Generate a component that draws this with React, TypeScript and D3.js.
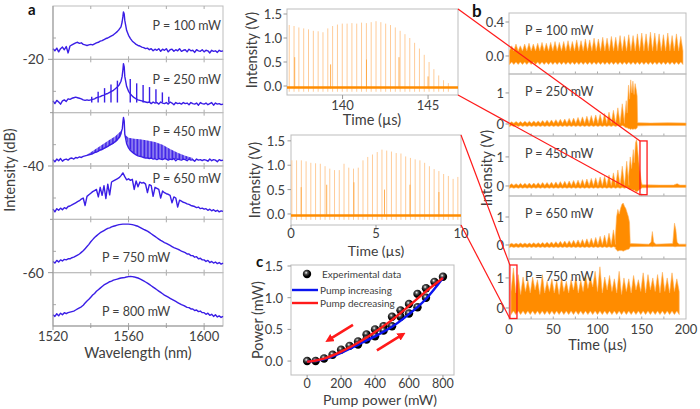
import React from 'react';
import * as d3 from 'd3';

const FONT = "Lato, 'Open Sans', sans-serif";
const TXT = '#404040';
const BLUE = '#3a1ee6';
const ORANGE = '#ff8c00';
const PALE = '#ffcc99';
const RED = '#ff1a1a';
const FRAME = '#bdbdbd';

// ---------- Panel a : spectra (level within each 10 dB slot, grid 1520..1610 nm step 1) ----------
const wlTicks = [1520, 1560, 1600];
const wlMinor = [1540, 1580];
const dbTicks = [-20, -40, -60];
const powersA = ['P = 100 mW', 'P = 250 mW', 'P = 450 mW', 'P = 650 mW', 'P = 750 mW', 'P = 800 mW'];

const spec100 = [
  2.0, 1.6, 2.1, 1.4, 2.0, 2.3, 1.8, 2.4, 1.2, 2.5,
  2.7, 2.9, 3.1, 3.2, 3.0, 3.1, 2.8, 2.7, 2.6, 2.7,
  2.8, 2.7, 2.9, 3.1, 3.2, 3.4, 3.5, 3.7, 3.9, 4.0,
  4.2, 4.4, 4.6, 4.9, 5.2, 5.6, 6.1, 8.0, 7.3, 5.4,
  4.5, 3.9, 3.4, 3.1, 2.8, 2.6, 2.5, 2.3, 2.2, 2.0,
  2.1, 1.8, 2.0, 1.6, 1.9, 1.7, 2.0, 1.5, 1.9, 1.7,
  2.0, 1.4, 1.8, 1.9, 1.5, 1.8, 1.6, 2.0, 1.5, 1.7,
  1.8, 1.4, 1.9, 1.6, 1.7, 1.3, 1.8, 1.6, 1.5, 1.8,
  1.4, 1.7, 1.6, 1.2, 1.7, 1.5, 1.6, 1.3, 1.7, 1.5, 1.6,
];
const spec250 = [
  2.2, 1.7, 2.3, 2.0, 1.6, 2.2, 2.4, 2.1, 2.6, 2.5,
  2.7, 2.8, 2.9, 2.8, 2.7, 2.6, 2.4, 2.3, 2.4, 2.3,
  2.4, 2.5, 2.6, 2.8, 2.9, 3.0, 3.2, 3.3, 3.5, 3.6,
  3.8, 4.0, 4.2, 4.5, 4.8, 5.2, 5.9, 8.0, 6.8, 4.9,
  4.0, 3.5, 3.1, 2.8, 2.6, 2.4, 2.3, 2.2, 2.1, 2.0,
  1.9, 2.0, 1.7, 2.0, 1.8, 1.9, 1.6, 2.0, 1.8, 1.7,
  1.9, 1.6, 2.0, 1.8, 1.5, 1.9, 1.7, 1.8, 1.6, 1.9,
  1.7, 1.8, 1.5, 1.9, 1.7, 1.6, 1.8, 1.4, 1.9, 1.7,
  1.6, 1.8, 1.5, 1.7, 1.9, 1.4, 1.8, 1.6, 1.7, 1.5, 1.6,
];
const spec450 = [
  1.2, 0.8, 1.3, 1.0, 1.4, 0.9, 1.2, 1.3, 1.1, 1.4,
  1.5, 1.3, 1.6, 1.5, 1.7, 1.6, 1.8, 1.9, 2.0, 2.1,
  2.2, 2.3, 2.5, 2.6, 2.8, 3.0, 3.1, 3.3, 3.5, 3.7,
  3.9, 4.1, 4.3, 4.6, 4.9, 5.4, 6.2, 8.2, 6.0, 4.2,
  3.4, 2.9, 2.6, 2.3, 2.1, 1.9, 1.8, 1.7, 1.6, 1.5,
  1.5, 1.4, 1.5, 1.3, 1.4, 1.2, 1.4, 1.3, 1.2, 1.4,
  1.3, 1.1, 1.3, 1.2, 1.4, 1.0, 1.3, 1.2, 1.1, 1.3,
  1.2, 1.0, 1.3, 1.1, 1.2, 0.9, 1.3, 1.1, 1.2, 1.0,
  1.2, 1.1, 0.9, 1.3, 1.0, 1.2, 1.1, 0.8, 1.2, 1.0, 1.1,
];
const spec650 = [
  1.9, 1.4, 2.0, 1.7, 2.1, 1.8, 2.2, 2.0, 2.4, 2.5,
  2.7, 2.9, 3.1, 3.3, 3.5, 3.8, 4.0, 2.6, 4.3, 4.6,
  4.9, 5.2, 5.4, 5.6, 4.2, 6.0, 4.5, 6.3, 3.9, 6.6,
  4.6, 7.0, 7.2, 7.4, 7.6, 7.8, 8.2, 8.7, 8.0, 7.4,
  7.6, 7.3, 7.5, 5.6, 7.2, 6.1, 7.0, 6.8, 6.9, 6.6,
  5.0, 6.5, 6.3, 4.3, 6.0, 5.8, 5.6, 4.0, 5.3, 5.0,
  4.8, 4.7, 4.5, 3.1, 4.2, 4.0, 2.3, 3.6, 3.4, 3.2,
  3.1, 2.9, 2.8, 2.6, 2.5, 2.4, 2.2, 2.3, 2.0, 2.1,
  1.9, 2.0, 1.7, 1.9, 1.6, 1.8, 1.5, 1.7, 1.4, 1.6, 1.5,
];
const spec750 = [
  2.1, 1.8, 2.3, 2.0, 2.4, 2.2, 2.5, 2.4, 2.6, 2.6,
  2.8, 2.9, 3.1, 3.3, 3.5, 3.8, 4.1, 4.5, 4.9, 5.3,
  5.8, 6.2, 6.6, 6.9, 7.2, 7.5, 7.7, 7.9, 8.1, 8.3,
  8.4, 8.6, 8.7, 8.8, 8.9, 9.0, 9.05, 9.1, 9.1, 9.1,
  9.1, 9.05, 9.0, 8.9, 8.8, 8.7, 8.5, 8.3, 8.1, 7.95,
  7.8, 7.55, 7.3, 7.05, 6.8, 6.55, 6.3, 6.05, 5.85, 5.65,
  5.5, 5.3, 5.1, 4.9, 4.7, 4.55, 4.4, 4.25, 4.05, 3.9,
  3.75, 3.5, 3.5, 3.2, 3.2, 2.9, 3.0, 2.6, 2.7, 2.4,
  2.4, 2.1, 2.3, 1.9, 2.1, 1.8, 2.0, 1.7, 1.9, 1.6, 1.8,
];
const spec800 = [
  2.1, 1.8, 2.3, 1.9, 2.4, 2.1, 2.5, 2.3, 2.5, 2.6,
  2.7, 2.8, 3.0, 3.2, 3.4, 3.6, 3.9, 4.3, 4.7, 5.0,
  5.4, 5.8, 6.1, 6.5, 6.8, 7.1, 7.4, 7.7, 7.9, 8.1,
  8.3, 8.4, 8.6, 8.7, 8.8, 8.9, 9.0, 9.05, 9.1, 9.2,
  9.25, 9.3, 9.25, 9.2, 9.1, 9.0, 8.85, 8.65, 8.45, 8.25,
  8.05, 7.8, 7.55, 7.3, 7.05, 6.8, 6.55, 6.3, 6.05, 5.8,
  5.6, 5.4, 5.2, 5.0, 4.8, 4.6, 4.4, 4.2, 4.0, 3.85,
  3.7, 3.5, 3.45, 3.2, 3.2, 2.9, 3.0, 2.7, 2.8, 2.5,
  2.5, 2.2, 2.4, 2.0, 2.2, 1.8, 2.1, 1.7, 1.9, 1.6, 1.8,
];
const peak100: [number, number][] = [[1556.6, 7.0], [1557.3, 8.9], [1557.7, 8.5]];
const peak250: [number, number][] = [[1556.6, 6.8], [1557.3, 9.2], [1557.7, 8.6]];
const peak450: [number, number][] = [[1556.7, 7.0], [1557.3, 9.1], [1557.7, 8.4]];
const sidebands250: [number, number][] = [
  [1540.5, 3.0], [1543.9, 3.9], [1547.3, 4.6], [1550.7, 5.3], [1554.1, 6.0],
  [1560.9, 6.3], [1564.3, 5.5], [1567.7, 5.2], [1571.1, 4.8], [1574.5, 4.4], [1577.9, 3.8], [1581.3, 3.0],
];
// modulation band of the 450 mW spectrum: [wavelength, low, high]
const band450Left: [number, number, number][] = [
  [1538, 2.0, 2.1], [1541, 2.3, 2.8], [1544, 2.7, 3.5], [1547, 3.2, 4.2], [1550, 3.8, 4.9],
  [1553, 4.4, 5.6], [1555.5, 5.3, 6.4], [1556.5, 6.0, 6.6],
];
const band450Right: [number, number, number][] = [
  [1558.3, 5.8, 5.8], [1560, 3.4, 5.3], [1563, 2.3, 5.1], [1566, 1.8, 5.0], [1570, 1.5, 4.8],
  [1574, 1.4, 4.5], [1578, 1.3, 4.0], [1582, 1.3, 3.2], [1586, 1.3, 2.5], [1590, 1.2, 1.9], [1594, 1.2, 1.5],
];
const spectraA = [spec100, spec250, spec450, spec650, spec750, spec800];
const peaksA = [peak100, peak250, peak450, [], [], []] as [number, number][][];

// ---------- middle panels: pulse trains ----------
const pulsesTop = [1.27, 1.25, 1.22, 1.2, 1.18, 1.15, 1.14, 1.12, 1.2, 1.25, 1.28, 1.3, 1.3, 1.31, 1.3, 1.32, 1.31,
  1.33, 1.35, 1.33, 1.3, 1.27, 1.22, 1.15, 1.08, 1.0, 0.9, 0.78, 0.65, 0.5, 0.35, 0.22, 0.12, 0.06];
const pulsesTopStart = 136.88;
const pulsesTopPeriod = 0.282;
const brightTop: [number, number][] = [[137.2, 0.6], [139.3, 0.45], [141.4, 0.55], [143.3, 0.6], [145.0, 0.2]];
const pulsesBottom = [1.1, 1.1, 1.1, 1.08, 1.05, 1.04, 1.03, 0.98, 0.93, 0.9, 0.9, 1.03, 0.95, 0.93, 0.95, 1.1,
  1.17, 1.22, 1.27, 1.32, 1.3, 1.28, 1.25, 1.24, 1.18, 1.15, 1.12, 1.1, 1.05, 0.98, 0.92, 0.88, 0.82, 0.78, 0.72, 0.76];
const pulsesBottomStart = 0.05;
const pulsesBottomPeriod = 0.279;
const brightBottom: [number, number][] = [[0.6, 0.55], [2.1, 0.6], [3.7, 0.65], [5.5, 0.5], [7.0, 0.6], [8.7, 0.45]];

// ---------- panel c ----------
const pumpTicks = [0, 200, 400, 600, 800];
const powerTicks = [0, 0.5, 1.0, 1.5];
const expUpper: [number, number][] = [[0, 0], [50, 0], [100, 0.04], [150, 0.1], [200, 0.18], [250, 0.24], [300, 0.31],
  [350, 0.42], [400, 0.5], [450, 0.55], [500, 0.7], [550, 0.8], [600, 0.9], [650, 1.06], [700, 1.15], [750, 1.25], [800, 1.33]];
const expLower: [number, number][] = [[300, 0.26], [350, 0.34], [400, 0.39], [450, 0.48], [500, 0.55], [550, 0.7],
  [600, 0.75], [650, 0.85], [700, 1.0]];
const fitIncreasing: [number, number][] = [[0, -0.01], [100, 0.03], [200, 0.13], [300, 0.26], [400, 0.39], [500, 0.54],
  [600, 0.74], [700, 0.98], [800, 1.31]];
const fitDecreasing: [number, number][] = [[0, -0.01], [100, 0.04], [200, 0.15], [300, 0.29], [400, 0.46], [500, 0.65],
  [600, 0.87], [700, 1.1], [800, 1.31]];
const arrowsC: [number, number, number, number][] = [[270, 0.57, 124, 0.33], [411, 0.17, 563, 0.42]];

// ---------- panel b ----------
const timeTicksB = [0, 50, 100, 150, 200];
const powersB = ['P = 100 mW', 'P = 250 mW', 'P = 450 mW', 'P = 650 mW', 'P = 750 mW'];
const b100Peaks = [0.12, 0.14, 0.12, 0.14, 0.15, 0.14, 0.15, 0.16, 0.15, 0.16, 0.17, 0.16, 0.17, 0.18, 0.17, 0.19, 0.18,
  0.2, 0.19, 0.21, 0.2, 0.22, 0.21, 0.23, 0.22, 0.24, 0.23, 0.25, 0.24, 0.26, 0.27, 0.26, 0.28, 0.27, 0.26, 0.25, 0.27, 0.24, 0.26, 0.23];
const b250Peaks = [0.07, 0.08, 0.08, 0.09, 0.09, 0.1, 0.1, 0.11, 0.12, 0.13, 0.14, 0.15, 0.16, 0.18, 0.19, 0.21, 0.23,
  0.25, 0.27, 0.29, 0.31, 0.34, 0.38, 0.44, 0.52, 0.65];
const b450Peaks = [0.08, 0.08, 0.09, 0.09, 0.1, 0.1, 0.11, 0.12, 0.12, 0.13, 0.14, 0.15, 0.16, 0.17, 0.19, 0.2, 0.22,
  0.24, 0.26, 0.28, 0.31, 0.34, 0.38, 0.45, 0.55, 0.68, 0.85];
const b650Peaks = [0.06, 0.06, 0.07, 0.07, 0.07, 0.08, 0.08, 0.09, 0.1, 0.11, 0.12, 0.13, 0.14, 0.15, 0.17, 0.18, 0.2,
  0.22, 0.24, 0.27, 0.31, 0.35, 0.42, 0.54];
const b750Peaks = [1.33, 1.11, 1.03, 0.94, 1.03, 0.94, 1.11, 0.89, 0.97, 0.92, 1.0, 0.89, 0.94, 1.03, 0.94, 1.11, 1.03,
  1.22, 1.37, 1.03, 1.08, 0.97, 1.22, 1.0, 0.97, 1.08, 0.94, 1.17, 1.11, 1.0, 1.11, 1.19, 1.0, 1.17, 0.97];
const b750Valleys = [0.55, 0.5, 0.45, 0.55, 0.5, 0.6, 0.45, 0.5, 0.55, 0.5, 0.45, 0.55, 0.5, 0.6, 0.5, 0.55, 0.65,
  0.7, 0.55, 0.5, 0.6, 0.55, 0.5, 0.45, 0.55, 0.5, 0.6, 0.55, 0.5, 0.6, 0.55, 0.5, 0.55, 0.5, 0.55];
// bursts and tails: [time, high, low]
const b250Tail: [number, number, number][] = [[130.5, 0.15, -0.1], [132.5, 0.75, -0.12], [133.5, 0.35, -0.12], [135, 1.25, -0.15],
  [136.2, 0.8, -0.15], [137.5, 1.42, -0.18], [138.8, 1.0, -0.15], [140, 1.38, -0.18], [141.3, 0.95, -0.15], [142.5, 1.3, -0.17],
  [143.8, 1.1, -0.15], [144.8, 0.9, -0.12], [145.4, 0.04, -0.06], [160, 0.03, -0.05], [180, 0.04, -0.05], [200, 0.03, -0.05]];
const b450Tail: [number, number, number][] = [[135, 0.3, -0.1], [137, 1.0, -0.12], [138.5, 0.6, -0.12], [140.5, 1.25, -0.15],
  [141.5, 0.8, -0.14], [143, 1.5, -0.18], [144.2, 1.6, -0.2], [145.5, 1.2, -0.18], [146.5, 0.9, -0.15], [147.5, 0.6, -0.12],
  [148.5, 0.4, -0.1], [149.5, 0.15, -0.08], [150.5, 0.04, -0.06], [170, 0.03, -0.05], [186, 0.03, -0.05], [190, 0.08, -0.05],
  [193, 0.03, -0.05], [200, 0.03, -0.05]];
const b650Tail: [number, number, number][] = [[120, 0.2, -0.12], [121.5, 1.0, -0.18], [123, 1.27, -0.22], [124.5, 1.1, -0.2],
  [126, 1.3, -0.2], [127.5, 1.45, -0.2], [129, 1.5, -0.22], [130.5, 1.38, -0.2], [132, 1.3, -0.18], [133.5, 1.15, -0.16],
  [135, 1.0, -0.15], [136.2, 0.8, -0.12], [137, 0.05, -0.06], [158, 0.03, -0.05], [160.5, 0.1, -0.05], [162, 0.48, -0.06],
  [163.5, 0.1, -0.05], [166, 0.03, -0.05], [185, 0.05, -0.05], [187, 0.78, -0.06], [188.5, 0.55, -0.06], [190, 0.1, -0.05],
  [192, 0.03, -0.05], [200, 0.03, -0.05]];

const W = 700, H = 409;

function teeth(peaks: number[], start: number, period: number, valley: number | number[], lowPeak: number, lowValley: number) {
  const pts: [number, number, number][] = [];
  peaks.forEach((p, i) => {
    const t = start + i * period;
    const v = Array.isArray(valley) ? valley[i] : valley;
    pts.push([t - period / 2, v, lowValley]);
    pts.push([t, p, lowPeak]);
  });
  const last = start + (peaks.length - 1) * period + period / 2;
  const v = Array.isArray(valley) ? valley[valley.length - 1] : valley;
  pts.push([last, v, lowValley]);
  return pts;
}

export default function App() {
  // ---------- panel a ----------
  const ax = d3.scaleLinear().domain([1520, 1610]).range([53, 223]);
  const ay = d3.scaleLinear().domain([-70, -10]).range([326, 6]);
  const slotBase = [-20, -30, -40, -50, -60, -70];
  const labelDy = [24, 25, 23, 17, 43, 43.5];
  const lineA = d3.line<[number, number]>().x(d => ax(d[0])).y(d => d[1]);

  const specPaths = spectraA.map((s, k) => {
    const pts: [number, number][] = s.map((v, i) => [1520 + i, v] as [number, number]).concat(peaksA[k]);
    pts.sort((a, b) => a[0] - b[0]);
    return lineA(pts.map(p => [p[0], ay(slotBase[k] + p[1])] as [number, number])) || '';
  });
  const bandArea = (k: number) => d3.area<[number, number, number]>()
    .x(d => ax(d[0])).y0(d => ay(slotBase[k] + d[1])).y1(d => ay(slotBase[k] + d[2]));

  // ---------- middle panels ----------
  const mx1 = d3.scaleLinear().domain([136.75, 146.75]).range([287, 458]);
  const my1 = d3.scaleLinear().domain([-0.2, 1.6]).range([95.6, 9.2]);
  const mx2 = d3.scaleLinear().domain([0, 10]).range([291, 461]);
  const my2 = d3.scaleLinear().domain([-0.226, 1.62]).range([225, 135]);

  // ---------- panel c ----------
  const cx = d3.scaleLinear().domain([-95, 865]).range([291, 454]);
  const cy = d3.scaleLinear().domain([-0.22, 1.516]).range([375, 265]);
  const lineC = d3.line<[number, number]>().x(d => cx(d[0])).y(d => cy(d[1])).curve(d3.curveMonotoneX);

  // ---------- panel b ----------
  const bx = d3.scaleLinear().domain([0, 200]).range([509, 686]);
  const bTops = [13, 74, 136, 196, 259];
  const bBots = [74, 136, 196, 259, 319];
  const bDomains: [number, number][] = [[-0.212, 0.506], [-0.387, 1.61], [-0.345, 1.72], [-0.5, 1.75], [-0.367, 1.63]];
  const bys = bDomains.map((d, i) => d3.scaleLinear().domain(d).range([bBots[i], bTops[i]]));
  const bTicks = [[0.0, 0.4], [0, 1], [0, 1], [0, 1], [0, 1]];
  const bTickFmt = [(v: number) => v.toFixed(1), String, String, String, String];
  const bData: [number, number, number][][] = [
    teeth(b100Peaks, 3, 4.9, 0.06, -0.07, -0.1),
    teeth(b250Peaks, 3, 5, 0.02, -0.05, -0.08).concat(b250Tail),
    teeth(b450Peaks, 3, 5, 0.02, -0.05, -0.08).concat(b450Tail),
    teeth(b650Peaks, 3, 5, 0.02, -0.06, -0.09).concat(b650Tail),
    teeth(b750Peaks, 5, 5.43, b750Valleys, -0.1, -0.22),
  ];
  const bAreas = bData.map((dat, i) => d3.area<[number, number, number]>()
    .x(d => bx(Math.max(0, Math.min(200, d[0])))).y0(d => bys[i](d[2])).y1(d => bys[i](d[1]))(dat) || '');

  const tickText = { fontFamily: FONT, fontSize: 13, fill: TXT } as const;
  const titleText = { fontFamily: FONT, fontSize: 14.5, fill: TXT } as const;
  const pText = { fontFamily: FONT, fontSize: 12.5, fill: TXT } as const;

  // red zoom boxes
  const rect1 = { x0: bx(148), x1: bx(156), y0: bys[2](1.55), y1: bys[2](-0.3) };
  const rect2 = { x0: bx(1), x1: bx(9), y0: bys[4](1.43), y1: bys[4](-0.35) };

  return (
    <svg width={W} height={H} style={{ position: 'absolute', left: 0, top: 0, background: '#fff' }}>
      <defs>
        <radialGradient id="ball" cx="40%" cy="35%" r="60%">
          <stop offset="0%" stopColor="#ffffff" />
          <stop offset="30%" stopColor="#555555" />
          <stop offset="75%" stopColor="#000000" />
        </radialGradient>
        <pattern id="stripes" width="1.4" height="4" patternUnits="userSpaceOnUse">
          <rect x="0" y="0" width="1.05" height="4" fill={BLUE} />
        </pattern>
        <marker id="arrowHead" viewBox="0 0 10 10" refX="6" refY="5" markerWidth="3.2" markerHeight="3.2" orient="auto">
          <path d="M0,0 L10,5 L0,10 Z" fill={RED} />
        </marker>
      </defs>

      {/* ================= Panel a ================= */}
      <text x={28} y={15} style={{ fontFamily: FONT, fontSize: 15, fontWeight: 700, fill: '#111' }}>a</text>
      {slotBase.map((b, k) => {
        const top = ay(b + 10), bot = ay(b);
        return (
          <g key={'sa' + k}>
            <rect x={ax(1520)} y={top} width={ax(1610) - ax(1520)} height={bot - top} fill="none" stroke={FRAME} strokeWidth={1} />
            {[1540, 1560, 1580, 1600].map(w => (
              <g key={w}>
                <line x1={ax(w)} x2={ax(w)} y1={top} y2={top + 3} stroke="#aaa" />
                <line x1={ax(w)} x2={ax(w)} y1={bot} y2={bot - 3} stroke="#aaa" />
              </g>
            ))}
            <line x1={ax(1520)} x2={ax(1520) + 3} y1={ay(b + 4)} y2={ay(b + 4)} stroke="#aaa" />
          </g>
        );
      })}
      <path d={bandArea(2)(band450Left) || ''} fill="url(#stripes)" />
      <path d={bandArea(2)(band450Right) || ''} fill="url(#stripes)" />
      {sidebands250.map(([w, v], i) => (
        <line key={'sb' + i} x1={ax(w)} x2={ax(w)} y1={ay(slotBase[1] + 1.9)} y2={ay(slotBase[1] + v)} stroke={BLUE} strokeWidth={1.4} />
      ))}
      {specPaths.map((p, k) => (
        <path key={'sp' + k} d={p} fill="none" stroke={BLUE} strokeWidth={1.4} strokeLinejoin="round" />
      ))}
      {powersA.map((t, k) => (
        <text key={'pa' + k} x={k < 4 ? 221 : ax(1564)} y={ay(slotBase[k] + 10) + labelDy[k]}
          textAnchor={k < 4 ? 'end' : 'middle'} style={pText}>{t}</text>
      ))}
      <line x1={ax(1520)} x2={ax(1520)} y1={ay(-10)} y2={ay(-70)} stroke="#999" />
      <line x1={ax(1520)} x2={ax(1610)} y1={ay(-70)} y2={ay(-70)} stroke="#999" />
      {dbTicks.map(v => (
        <g key={'dt' + v}>
          <line x1={ax(1520) - 5} x2={ax(1520)} y1={ay(v)} y2={ay(v)} stroke="#999" />
          <text x={44} y={ay(v) + 5} textAnchor="end" style={{ ...tickText, fontSize: 14 }}>{v}</text>
        </g>
      ))}
      {[-30, -50].map(v => (
        <line key={'dm' + v} x1={ax(1520) - 3} x2={ax(1520)} y1={ay(v)} y2={ay(v)} stroke="#999" />
      ))}
      {wlTicks.map(w => (
        <g key={'wt' + w}>
          <line x1={ax(w)} x2={ax(w)} y1={ay(-70)} y2={ay(-70) + 4} stroke="#999" />
          <text x={ax(w)} y={341} textAnchor="middle" style={tickText}>{w}</text>
        </g>
      ))}
      {wlMinor.map(w => (
        <line key={'wm' + w} x1={ax(w)} x2={ax(w)} y1={ay(-70)} y2={ay(-70) + 2} stroke="#999" />
      ))}
      <text x={ax(1565)} y={358} textAnchor="middle" style={titleText}>Wavelength (nm)</text>
      <text transform={`translate(15,170) rotate(-90)`} textAnchor="middle" style={titleText}>Intensity (dB)</text>

      {/* ================= Middle top ================= */}
      <rect x={287} y={9} width={171} height={86} fill="none" stroke={FRAME} />
      {pulsesTop.map((h, i) => {
        const t = pulsesTopStart + i * pulsesTopPeriod;
        return <line key={'pt' + i} x1={mx1(t)} x2={mx1(t)} y1={my1(-0.12)} y2={my1(h)} stroke={PALE} strokeWidth={1} />;
      })}
      {brightTop.map(([t, h], i) => (
        <line key={'bt' + i} x1={mx1(t)} x2={mx1(t)} y1={my1(-0.05)} y2={my1(h)} stroke="#ffa640" strokeWidth={0.9} />
      ))}
      <line x1={mx1(136.75)} x2={mx1(146.75)} y1={my1(-0.03)} y2={my1(-0.03)} stroke={ORANGE} strokeWidth={2.6} />
      {[0, 0.5, 1.0, 1.5].map(v => (
        <g key={'m1y' + v}>
          <line x1={287} x2={283.5} y1={my1(v)} y2={my1(v)} stroke="#999" />
          <text x={282} y={my1(v) + 5} textAnchor="end" style={tickText}>{v.toFixed(1)}</text>
        </g>
      ))}
      {[140, 145].map(v => (
        <g key={'m1x' + v}>
          <line x1={mx1(v)} x2={mx1(v)} y1={95} y2={99} stroke="#999" />
          <text x={mx1(v)} y={110} textAnchor="middle" style={tickText}>{v}</text>
        </g>
      ))}
      <text x={372} y={125} textAnchor="middle" style={titleText}>Time (µs)</text>
      <text transform="translate(257,50) rotate(-90)" textAnchor="middle" style={titleText}>Intensity (V)</text>

      {/* ================= Middle bottom ================= */}
      <rect x={291} y={135} width={170} height={90} fill="none" stroke={FRAME} />
      {pulsesBottom.map((h, i) => {
        const t = pulsesBottomStart + i * pulsesBottomPeriod;
        return <line key={'pb' + i} x1={mx2(t)} x2={mx2(t)} y1={my2(-0.12)} y2={my2(h)} stroke={PALE} strokeWidth={1} />;
      })}
      {brightBottom.map(([t, h], i) => (
        <line key={'bb' + i} x1={mx2(t)} x2={mx2(t)} y1={my2(-0.05)} y2={my2(h)} stroke="#ffa640" strokeWidth={0.9} />
      ))}
      <line x1={mx2(0)} x2={mx2(10)} y1={my2(-0.03)} y2={my2(-0.03)} stroke={ORANGE} strokeWidth={2.6} />
      {[0, 0.5, 1.0, 1.5].map(v => (
        <g key={'m2y' + v}>
          <line x1={291} x2={287.5} y1={my2(v)} y2={my2(v)} stroke="#999" />
          <text x={285} y={my2(v) + 5} textAnchor="end" style={tickText}>{v.toFixed(1)}</text>
        </g>
      ))}
      {[0, 5, 10].map(v => (
        <g key={'m2x' + v}>
          <line x1={mx2(v)} x2={mx2(v)} y1={225} y2={228} stroke="#999" />
          <text x={mx2(v)} y={238} textAnchor="middle" style={tickText}>{v}</text>
        </g>
      ))}
      <text x={376} y={255.5} textAnchor="middle" style={{ ...titleText, fontSize: 14 }}>Time (µs)</text>
      <text transform="translate(260,180) rotate(-90)" textAnchor="middle" style={titleText}>Intensity (V)</text>

      {/* ================= Panel c ================= */}
      <text x={256} y={267} style={{ fontFamily: FONT, fontSize: 15, fontWeight: 700, fill: '#111' }}>c</text>
      <rect x={291} y={265} width={163} height={110} fill="none" stroke={FRAME} />
      {powerTicks.map(v => (
        <g key={'cy' + v}>
          <line x1={291} x2={287.5} y1={cy(v)} y2={cy(v)} stroke="#999" />
          <text x={283} y={cy(v) + 5} textAnchor="end" style={tickText}>{v.toFixed(1)}</text>
        </g>
      ))}
      {pumpTicks.map(v => (
        <g key={'cx' + v}>
          <line x1={cx(v)} x2={cx(v)} y1={375} y2={378} stroke="#999" />
          <text x={cx(v)} y={387.5} textAnchor="middle" style={{ ...tickText, fontSize: 12.5 }}>{v}</text>
        </g>
      ))}
      <text x={380} y={404.5} textAnchor="middle" style={{ ...titleText, fontSize: 14 }}>Pump power (mW)</text>
      <text transform="translate(263,320) rotate(-90)" textAnchor="middle" style={titleText}>Power (mW)</text>
      {expUpper.concat(expLower).map(([p, v], i) => (
        <circle key={'ec' + i} cx={cx(p)} cy={cy(v)} r={4.2} fill="url(#ball)" />
      ))}
      <path d={lineC(fitIncreasing) || ''} fill="none" stroke="#0a14f0" strokeWidth={2.4} />
      <path d={lineC(fitDecreasing) || ''} fill="none" stroke={RED} strokeWidth={2.4} />
      {arrowsC.map(([p0, v0, p1, v1], i) => (
        <line key={'ar' + i} x1={cx(p0)} y1={cy(v0)} x2={cx(p1)} y2={cy(v1)} stroke={RED} strokeWidth={2.6} markerEnd="url(#arrowHead)" />
      ))}
      <circle cx={307} cy={274} r={4.2} fill="url(#ball)" />
      <text x={322} y={277.5} style={{ fontFamily: FONT, fontSize: 10, fill: TXT }}>Experimental data</text>
      <line x1={292} x2={318} y1={290} y2={290} stroke="#0a14f0" strokeWidth={2.4} />
      <text x={320} y={293.5} style={{ fontFamily: FONT, fontSize: 10, fill: TXT }}>Pump increasing</text>
      <line x1={292} x2={318} y1={303} y2={303} stroke={RED} strokeWidth={2.4} />
      <text x={320} y={306.5} style={{ fontFamily: FONT, fontSize: 10, fill: TXT }}>Pump decreasing</text>

      {/* ================= Panel b ================= */}
      <text x={472} y={17} style={{ fontFamily: FONT, fontSize: 17, fontWeight: 700, fill: '#111' }}>b</text>
      {bys.map((y, i) => (
        <g key={'bp' + i}>
          <rect x={509} y={bTops[i]} width={177} height={bBots[i] - bTops[i]} fill="none" stroke={FRAME} />
          <path d={bAreas[i]} fill={ORANGE} stroke="#ffb25c" strokeWidth={0.6} />
          {bTicks[i].map(v => (
            <g key={v}>
              <line x1={509} x2={505.5} y1={y(v)} y2={y(v)} stroke="#999" />
              <text x={504} y={y(v) + 5} textAnchor="end" style={tickText}>{bTickFmt[i](v)}</text>
            </g>
          ))}
          {[25, 50, 75, 100, 125, 150, 175].map(t => (
            <line key={t} x1={bx(t)} x2={bx(t)} y1={bBots[i]} y2={bBots[i] - 2.5} stroke="#aaa" />
          ))}
          <text x={525} y={bTops[i] + 22} style={pText}>{powersB[i]}</text>
        </g>
      ))}
      {timeTicksB.map(t => (
        <text key={'btx' + t} x={bx(t)} y={334} textAnchor="middle" style={tickText}>{t}</text>
      ))}
      <text x={bx(100)} y={350} textAnchor="middle" style={titleText}>Time (µs)</text>
      <text transform="translate(492,168) rotate(-90)" textAnchor="middle" style={titleText}>Intensity (V)</text>

      {/* ================= zoom annotations ================= */}
      <rect x={rect1.x0} y={rect1.y0} width={rect1.x1 - rect1.x0} height={rect1.y1 - rect1.y0} fill="none" stroke={RED} strokeWidth={1.3} />
      <rect x={rect2.x0} y={rect2.y0} width={rect2.x1 - rect2.x0} height={rect2.y1 - rect2.y0} fill="none" stroke={RED} strokeWidth={1.3} />
      <line x1={mx1(146.75)} y1={9} x2={rect1.x0} y2={rect1.y0} stroke={RED} strokeWidth={1.2} />
      <line x1={mx1(146.75)} y1={95} x2={rect1.x0} y2={rect1.y1} stroke={RED} strokeWidth={1.2} />
      <line x1={mx2(10)} y1={135} x2={rect2.x0} y2={rect2.y0} stroke={RED} strokeWidth={1.2} />
      <line x1={mx2(10)} y1={225} x2={rect2.x0} y2={rect2.y1} stroke={RED} strokeWidth={1.2} />
    </svg>
  );
}
